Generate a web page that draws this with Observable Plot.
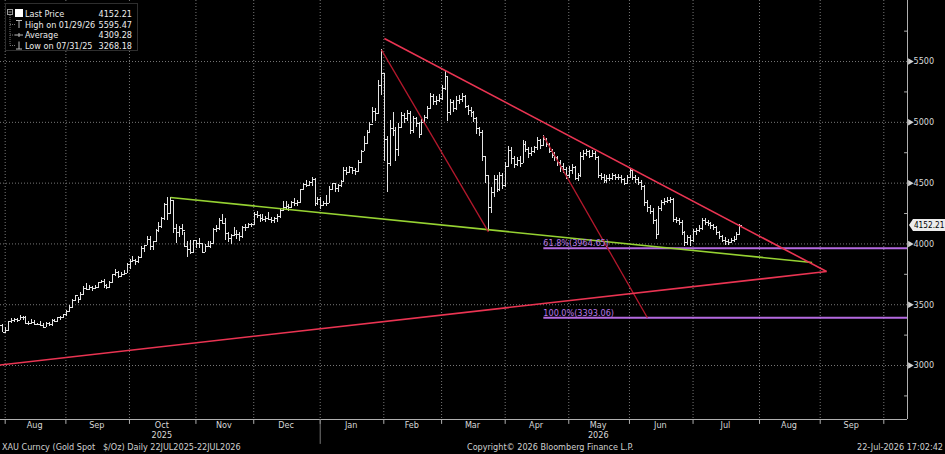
<!DOCTYPE html>
<html>
<head>
<meta charset="utf-8">
<script src="https://cdn.jsdelivr.net/npm/d3@7"></script>
<script src="https://cdn.jsdelivr.net/npm/@observablehq/plot@0.6"></script>
<style>
  html, body { margin: 0; padding: 0; background: #000; }
  body { width: 945px; height: 454px; overflow: hidden;
         font-family: "DejaVu Sans Condensed", "Liberation Sans Narrow", sans-serif; }
  #wrap { position: relative; width: 945px; height: 454px; background: #000; }
  #chart svg { display: block; }
  #legend { position: absolute; left: 5px; top: 3px; }
  #tag { position: absolute; left: 909px; width: 36px; height: 12px; background: #ececec; color: #000;
         font-size: 9.5px; line-height: 12px; box-sizing: border-box; overflow: hidden;
         clip-path: polygon(0 50%, 4px 0, 100% 0, 100% 100%, 4px 100%); }
  #tag span { position: absolute; right: 1px; top: 0; transform: scaleX(0.86); transform-origin: right center; }
  #footer { position: absolute; left: 0; top: 441px; width: 945px; height: 13px; color: #d0d0d0;
            font-size: 9px; line-height: 13px; white-space: pre; }
  #footer span { position: absolute; top: 0; }
</style>
</head>
<body>
<div id="wrap">
  <div id="chart"></div>
  <div id="legend"></div>
  <div id="tag"></div>
  <div id="footer"></div>
</div>
<script>
const FONT = '"DejaVu Sans Condensed", "Liberation Sans Narrow", sans-serif';

// ---- Daily XAU spot bars, one value per trading day from 22 Jul 2025 to 22 Jul 2026 ----
const closes = [
  // Jul 2025
  3431,3387,3368,3337,3314,3326,3275,3289,
  // Aug
  3363,3373,3381,3368,3397,3398,3343,3348,3356,3335,3336,3332,3315,3347,3339,3372,3365,3393,3397,3416,3448,
  // Sep
  3476,3533,3578,3545,3587,3636,3625,3641,3634,3643,3679,3690,3659,3644,3685,3746,3763,3736,3749,3760,3833,3859,
  // Oct
  3866,3857,3887,3961,3985,4040,3975,4017,4110,4142,4209,4326,4251,4356,4125,4095,4126,4112,3982,3952,3931,4025,4002,
  // Nov
  4000,3932,3980,3977,4000,4115,4128,4195,4171,4084,4045,4066,4078,4077,4065,4136,4131,4163,4156,4239,
  // Dec
  4231,4206,4199,4208,4198,4189,4207,4229,4279,4300,4305,4303,4338,4330,4340,4445,4490,4480,4505,4532,4335,4362,4318,
  // Jan 2026
  4330,4335,4450,4495,4455,4478,4510,4600,4590,4625,4605,4595,4670,4760,4830,4920,4985,5090,5075,5300,5400,4860,
  // Feb
  4660,4950,4930,4780,4960,5060,5030,5070,4930,5030,4990,4900,5000,5040,5110,5210,5170,5180,5200,5280,
  // Mar
  5380,5080,5160,5110,5180,5190,5215,5130,5100,5080,5030,4950,4920,4720,4560,4300,4420,4530,4450,4560,4480,4640,
  // Apr
  4770,4700,4650,4690,4660,4820,4780,4740,4760,4790,4850,4810,4860,4820,4760,4730,4710,4670,4640,4610,4560,4600,
  // May
  4630,4540,4560,4720,4740,4760,4720,4745,4710,4560,4550,4520,4540,4535,4560,4545,4550,4530,4500,4550,4600,
  // Jun
  4545,4530,4505,4470,4340,4300,4270,4190,4080,4290,4340,4350,4360,4365,4200,4195,4180,4090,4010,4050,4030,4100,
  // Jul
  4110,4130,4190,4180,4165,4150,4135,4090,4060,4030,4020,4010,4030,4040,4080,4152.21
];
const highs = [
  3433,3438,3393,3373,3345,3334,3334,3315,
  3363,3385,3390,3384,3409,3400,3404,3358,3375,3374,3348,3358,3345,3350,3351,3378,3376,3394,3401,3423,3454,
  3490,3540,3578,3563,3600,3646,3674,3658,3649,3655,3685,3703,3707,3665,3687,3749,3791,3775,3761,3782,3835,3872,
  3895,3875,3897,3977,3991,4059,4058,4022,4116,4180,4218,4330,4380,4381,4360,4161,4147,4162,4097,4020,4030,4031,4030,
  4046,4001,3995,4019,4019,4123,4149,4212,4245,4211,4095,4078,4132,4107,4098,4142,4157,4172,4172,4256,
  4264,4242,4241,4228,4259,4219,4217,4240,4285,4353,4345,4322,4345,4375,4355,4450,4497,4525,4515,4550,4540,4385,4385,
  4350,4400,4470,4500,4500,4485,4520,4630,4630,4640,4625,4620,4690,4765,4880,4935,5000,5120,5110,5340,5595.47,5400,
  4880,5015,5080,4960,4990,5080,5075,5100,5090,5045,5040,5000,5020,5060,5130,5240,5230,5210,5230,5300,
  5420,5380,5190,5180,5210,5220,5240,5220,5140,5120,5090,5040,4960,4930,4720,4560,4460,4560,4560,4590,4580,4670,
  4800,4790,4720,4710,4720,4850,4840,4790,4790,4800,4875,4860,4889,4870,4830,4780,4750,4720,4690,4660,4630,4640,
  4650,4640,4580,4750,4770,4780,4770,4770,4760,4720,4580,4570,4560,4570,4580,4575,4570,4560,4540,4560,4620,
  4610,4560,4550,4520,4480,4360,4320,4290,4200,4310,4360,4370,4380,4385,4370,4220,4210,4190,4100,4070,4070,4120,
  4130,4150,4210,4210,4190,4180,4160,4140,4100,4070,4050,4040,4045,4060,4090,4160
];
const lows = [
  3383,3381,3351,3325,3301,3309,3270,3268.18,
  3281,3346,3353,3357,3368,3374,3341,3331,3343,3330,3325,3323,3311,3312,3324,3321,3351,3352,3372,3385,3407,
  3436,3470,3525,3511,3537,3583,3613,3620,3611,3624,3633,3673,3634,3627,3632,3683,3735,3718,3722,3741,3758,3792,
  3844,3820,3840,3884,3933,3983,3947,3944,4008,4096,4130,4195,4192,4251,4082,4004,4055,4067,3971,3886,3915,3929,3966,
  3962,3928,3931,3968,3962,3998,4098,4108,4160,4032,4010,3997,4057,4040,4022,4041,4100,4128,4137,4155,
  4212,4180,4186,4175,4193,4170,4168,4180,4205,4270,4280,4270,4295,4310,4310,4338,4440,4465,4475,4475,4305,4315,4280,
  4310,4310,4330,4440,4420,4420,4465,4505,4565,4580,4575,4560,4590,4665,4760,4815,4905,4990,5010,5070,5220,4680,
  4420,4640,4880,4680,4720,4950,4990,5010,4900,4910,4960,4870,4890,4980,5020,5110,5140,5140,5160,5180,
  5260,5010,5060,5080,5100,5150,5160,5110,5060,5040,5000,4900,4880,4680,4500,4099,4250,4380,4420,4430,4450,4460,
  4630,4650,4620,4640,4630,4660,4750,4700,4720,4740,4770,4780,4800,4790,4740,4700,4680,4640,4590,4580,4530,4540,
  4570,4520,4510,4550,4690,4720,4700,4710,4690,4540,4520,4500,4500,4510,4520,4525,4520,4500,4480,4490,4540,
  4520,4500,4480,4440,4310,4260,4240,4160,4040,4070,4270,4320,4330,4330,4180,4170,4150,4070,3975,3990,3980,4010,
  4070,4090,4110,4150,4140,4120,4110,4070,4040,4010,3990,3985,4000,4010,4030,4075
];

// ---- Axis ticks ----
const yTicks = [3000, 3500, 4000, 4500, 5000, 5500];
const yMinorTicks = [2750, 3250, 3750, 4250, 4750, 5250, 5750];
const yearLabels = [{year: "2025", month: "2025-10"}, {year: "2026", month: "2026-05"}];

// ---- Drawn annotations (price levels) ----
const greenTrend = [{from: "2025-10-20", p1: 4382, to: "2026-08-26", p2: 3847}];
const redTrends = [
  {from: "2026-01-30", p1: 5690, to: "2026-09-02", p2: 3773},
  {from: "2025-07-29", p1: 3004, to: "2026-09-02", p2: 3773}
];
const fibLegs = [
  {from: "2026-01-29", p1: 5595.47, to: "2026-03-23", p2: 4099},
  {from: "2026-04-17", p1: 4889, to: "2026-06-08", p2: 3393.06}
];
const fibLevels = [
  {pct: "61.8%", value: 3964.65, from: "2026-04-17", to: "2026-10-12"},
  {pct: "100.0%", value: 3393.06, from: "2026-04-17", to: "2026-10-12"}
];

// ---- Legend / footer text ----
const legendLabels = ["Last Price", "High on 01/29/26", "Average", "Low on 07/31/25"];
const legendValues = ["4152.21", "5595.47", "4309.28", "3268.18"];
const lastPrice = 4152.21;
const footerLeft = "XAU Curncy (Gold Spot   $/Oz) Daily 22JUL2025-22JUL2026";
const footerMid = "Copyright\u00A9 2026 Bloomberg Finance L.P.";
const footerRight = "22-Jul-2026 17:02:42";

// ---- Trading-day calendar (weekdays) ----
const days = [];
for (let t = Date.UTC(2025, 6, 22); t <= Date.UTC(2026, 9, 31); t += 864e5) {
  const d = new Date(t);
  const wd = d.getUTCDay();
  if (wd !== 0 && wd !== 6) days.push(d.toISOString().slice(0, 10));
}
const idx = new Map(days.map((d, i) => [d, i]));
const X = (s) => idx.get(s);

const bars = closes.map((c, i) => ({i, c, hi: highs[i], lo: lows[i], o: i > 0 ? closes[i - 1] : c}));

// months
const months = d3.groups(days.map((d, i) => ({m: d.slice(0, 7), i})), (d) => d.m)
  .map(([m, arr]) => ({m, first: arr[0].i, last: arr[arr.length - 1].i}));
const monthMap = new Map(months.map((m) => [m.m, m]));
const labelMonths = months.filter((m) => m.m >= "2025-08" && m.m <= "2026-09")
  .map((m) => ({x: (m.first + m.last) / 2 - 1, label: d3.utcFormat("%b")(new Date(m.m + "-15T00:00:00Z"))}));
const bounds = months.filter((m) => m.m >= "2025-08" && m.m <= "2026-10").map((m) => m.first - 1.2);
const yearSep = [monthMap.get("2026-01").first - 1.2];
const years = yearLabels.map((y) => ({x: (monthMap.get(y.month).first + monthMap.get(y.month).last) / 2 - 1, year: y.year}));

const X0 = 5.18, X1 = 319;
const Y0 = 2556, Y1 = 6002;

const seg = (arr) => arr.map((d) => ({x1: X(d.from), x2: X(d.to), y1: d.p1, y2: d.p2}));
const lineShape = {draw(context, l) { context.moveTo(0, 0); context.lineTo(0, -l); }};

const chart = Plot.plot({
  width: 945,
  height: 441,
  marginLeft: 0,
  marginRight: 38,
  marginTop: 0,
  marginBottom: 22,
  style: {background: "#000", color: "#d0d0d0", fontFamily: FONT, fontSize: "9px", overflow: "visible"},
  x: {type: "linear", domain: [X0, X1], axis: null},
  y: {domain: [Y0, Y1], axis: null},
  marks: [
    // grid
    Plot.ruleY(yTicks, {stroke: "#777", strokeDasharray: "1,2", strokeWidth: 1}),
    Plot.ruleX(bounds, {stroke: "#777", strokeDasharray: "1,2", strokeWidth: 1}),
    // fib levels
    Plot.link(fibLevels, {x1: (d) => X(d.from), x2: (d) => X(d.to), y1: "value", y2: "value",
      stroke: "#b46ae0", strokeWidth: 2, clip: true}),
    // price bars
    Plot.ruleX(bars, {x: "i", y1: "lo", y2: "hi", stroke: "#e4e4e4", strokeWidth: 1, clip: true, shapeRendering: "crispEdges"}),
    Plot.link(bars, {x1: "i", x2: (d) => d.i + 0.6, y1: "c", y2: "c", stroke: "#e4e4e4", strokeWidth: 1, clip: true, shapeRendering: "crispEdges"}),
    Plot.link(bars, {x1: (d) => d.i - 0.6, x2: "i", y1: "o", y2: "o", stroke: "#e4e4e4", strokeWidth: 1, clip: true, shapeRendering: "crispEdges"}),
    // trend lines
    Plot.link(seg(greenTrend), {x1: "x1", x2: "x2", y1: "y1", y2: "y2", stroke: "#96d232", strokeWidth: 1.6, clip: true}),
    Plot.link(seg(fibLegs), {x1: "x1", x2: "x2", y1: "y1", y2: "y2", stroke: "#b3182c", strokeWidth: 1.3, clip: true}),
    Plot.link(seg(redTrends), {x1: "x1", x2: "x2", y1: "y1", y2: "y2", stroke: "#ea3452", strokeWidth: 1.6, clip: true}),
    // fib labels
    Plot.text(fibLevels, {x: (d) => X(d.from), y: "value", text: (d) => `${d.pct}(${d.value.toFixed(2)})`,
      textAnchor: "start", dy: -5, fill: "#b878e6", fontSize: 9, textDecoration: "underline"}),
    // right axis
    Plot.ruleX([X1], {stroke: "#b0b0b0", strokeWidth: 1}),
    Plot.ruleY([Y0], {stroke: "#b0b0b0", strokeWidth: 1}),
    Plot.dot(yTicks, {y: (d) => d, frameAnchor: "right", symbol: "triangle", rotate: 90, r: 2.4,
      fill: "#d0d0d0", stroke: null, dx: 2.5}),
    Plot.vector(yMinorTicks, {y: (d) => d, frameAnchor: "right", length: 3, rotate: -90, anchor: "start",
      shape: lineShape, stroke: "#b0b0b0", strokeWidth: 1}),
    Plot.axisY(yTicks, {anchor: "right", tickSize: 0, tickPadding: 6, fontSize: 9, color: "#d8d8d8",
      tickFormat: d3.format("d")}),
    // bottom axis
    Plot.vector(bounds, {x: (d) => d, frameAnchor: "bottom", length: 4, rotate: 180, anchor: "start",
      shape: lineShape, stroke: "#b0b0b0", strokeWidth: 1}),
    Plot.vector(yearSep, {x: (d) => d, frameAnchor: "bottom", length: 24, rotate: 180, anchor: "start",
      shape: lineShape, stroke: "#777", strokeWidth: 1}),
    Plot.text(labelMonths, {x: "x", text: "label", frameAnchor: "bottom", dy: 8.5, fill: "#d8d8d8", fontSize: 9}),
    Plot.text(years, {x: "x", text: "year", frameAnchor: "bottom", dy: 18.5, fill: "#d8d8d8", fontSize: 9})
  ]
});
document.getElementById("chart").appendChild(chart);

// price tag on the axis
const tag = document.getElementById("tag");
tag.innerHTML = `<span>${lastPrice.toFixed(2)}</span>`;
tag.style.top = (chart.scale("y").apply(lastPrice) - 6) + "px";

// legend
const rowsY = [11, 21.5, 32, 42.3];
let lg = `<svg width="133" height="48" style="display:block;font-family:${FONT.replace(/"/g, "'")};font-size:9px">
<rect x="0.5" y="0.5" width="132" height="47" fill="#000" stroke="#2e2e2e"/>
<rect x="2.5" y="6.5" width="5" height="5" fill="none" stroke="#9a9a9a"/>
<line x1="3.5" y1="9" x2="6.5" y2="9" stroke="#9a9a9a"/>
<line x1="5" y1="12" x2="5" y2="42.5" stroke="#777" stroke-dasharray="1,1"/>
<rect x="10" y="6" width="8" height="8" fill="#fff"/>
<line x1="5" y1="21.5" x2="10" y2="21.5" stroke="#777" stroke-dasharray="1,1"/>
<line x1="11" y1="17.5" x2="17" y2="17.5" stroke="#bbb"/><line x1="14" y1="17.5" x2="14" y2="25" stroke="#bbb"/>
<line x1="5" y1="32" x2="10" y2="32" stroke="#777" stroke-dasharray="1,1"/>
<line x1="10" y1="32" x2="18" y2="32" stroke="#bbb"/><line x1="14" y1="30" x2="14" y2="34" stroke="#bbb"/>
<line x1="5" y1="42.5" x2="10" y2="42.5" stroke="#777" stroke-dasharray="1,1"/>
<line x1="11" y1="46" x2="17" y2="46" stroke="#bbb"/><line x1="14" y1="38.5" x2="14" y2="46" stroke="#bbb"/>`;
legendLabels.forEach((t, k) => {
  lg += `<text x="20" y="${rowsY[k] + 3.3}" fill="#ececec">${t}</text>`;
  lg += `<text x="127" y="${rowsY[k] + 3.3}" fill="#ececec" text-anchor="end">${legendValues[k]}</text>`;
});
lg += `</svg>`;
document.getElementById("legend").innerHTML = lg;

// footer
const footer = document.getElementById("footer");
footer.innerHTML = `<span style="left:2px">${footerLeft}</span><span style="left:467px">${footerMid}</span><span style="right:2px">${footerRight}</span>`;
</script>
</body>
</html>
